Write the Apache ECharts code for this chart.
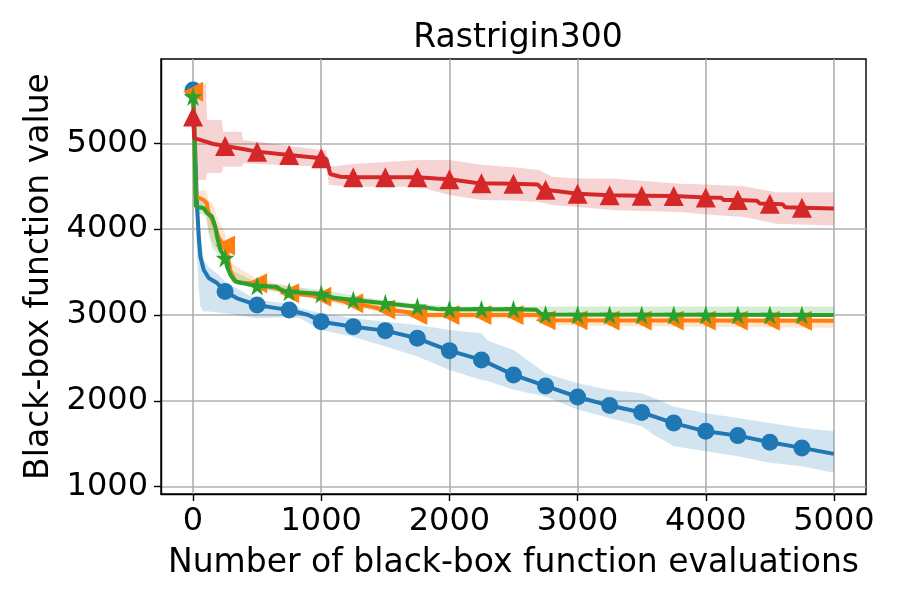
<!DOCTYPE html>
<html>
<head>
<meta charset="utf-8">
<script src="https://cdn.jsdelivr.net/npm/echarts@6/dist/echarts.min.js"></script>
<style>
html,body{margin:0;padding:0;background:#fff;}
#chart{width:900px;height:600px;}
</style>
</head>
<body>
<div id="chart"></div>
<script>
// ---------- Data ----------
const chartTitle = 'Rastrigin300';
const xTicks = [0, 1000, 2000, 3000, 4000, 5000];
const yTicks = [1000, 2000, 3000, 4000, 5000];
const markerX = [0,250,500,750,1000,1250,1500,1750,2000,2250,2500,2750,3000,3250,3500,3750,4000,4250,4500,4750];

// Blue (circles)
const blueX    = [0,15,30,45,57,83,122,187,250,350,500,650,750,900,1000,1250,1500,1750,2000,2250,2500,2750,3000,3250,3500,3750,4000,4250,4500,4750,4999];
const blueMean = [5620,5000,4300,3900,3681,3527,3430,3372,3275,3190,3116,3080,3058,3000,2922,2864,2818,2729,2585,2477,2302,2174,2045,1945,1865,1741,1645,1595,1517,1452,1382];
const blueMarkers = [5620,3275,3116,3058,2922,2864,2818,2729,2585,2477,2302,2174,2045,1945,1865,1741,1645,1595,1517,1452];
const blueBandX = [0,15,30,45,57,83,120,190,250,500,750,836,1000,1250,1500,1750,2000,2250,2300,2500,2750,3000,3250,3500,3600,3750,4000,4250,4500,4750,4999];
const blueLo    = [5580,4600,3700,3300,3100,3042,3040,3030,3020,2961,2975,2961,2826,2748,2632,2516,2360,2244,2230,2128,2050,1900,1799,1703,1600,1471,1413,1355,1278,1239,1162];
const blueHi    = [5660,5400,4800,4300,4000,3650,3560,3480,3390,3174,3135,3078,3019,2961,2922,2884,2826,2787,2700,2593,2322,2205,2127,2089,2030,1934,1857,1799,1741,1683,1645];

// Orange (left triangles)
const orangeX    = [0,8,15,22,83,109,120,150,170,200,230,250,270,290,320,350,450,500,700,750,1000,1250,1500,1700,1750,2000,2700,2720,4999];
const orangeMean = [5600,5300,4700,4380,4340,4300,4186,4110,4030,3900,3836,3810,3700,3520,3420,3380,3370,3369,3290,3253,3214,3136,3065,3030,3000,3000,3000,2940,2934];
const orangeMarkers = [5600,3810,3369,3253,3214,3136,3065,3000,3000,3000,3000,2940,2938,2937,2936,2936,2935,2935,2934,2934];
const orangeBandX = [0,20,22,100,120,150,200,250,300,500,1000,1500,1750,2700,2720,4999];
const orangeLo    = [5550,4300,4250,4200,4000,3850,3750,3700,3380,3320,3170,3020,2960,2960,2880,2850];
const orangeHi    = [5650,4900,4450,4450,4350,4300,4100,3950,3600,3420,3260,3110,3040,3040,2990,2960];

// Green (stars)
const greenX    = [0,8,15,22,83,109,148,174,187,213,250,265,291,330,446,500,650,700,750,1000,1100,1250,1500,1750,1900,2000,2500,2680,2720,4999];
const greenMean = [5544,5300,4700,4263,4244,4186,4147,4030,3914,3759,3663,3565,3469,3391,3352,3338,3330,3280,3272,3245,3200,3175,3136,3097,3070,3066,3066,3060,3005,3000];
const greenMarkers = [5544,3663,3338,3272,3245,3175,3136,3097,3066,3066,3066,3005,3000,3000,3000,3000,3000,3000,3000,3000];
const greenBandX = [0,22,100,120,150,200,250,300,500,1000,1500,2000,2700,2720,4999];
const greenLo    = [5500,4200,4150,3950,3780,3700,3600,3400,3300,3200,3100,3030,3030,2990,2990];
const greenHi    = [5590,4350,4300,4250,4200,3950,3780,3520,3380,3290,3170,3100,3100,3100,3100];

// Red (up triangles)
const redX    = [0,6,10,100,150,250,400,500,750,1000,1040,1070,1150,1250,1750,1900,2000,2200,2250,2500,2690,2720,2750,2800,3000,3250,3500,3750,4000,4120,4140,4250,4400,4420,4500,4600,4620,4750,4999];
const redMean = [5311,5311,5060,5020,4995,4969,4930,4903,4864,4825,4820,4643,4610,4604,4604,4590,4581,4540,4534,4528,4520,4470,4460,4450,4412,4395,4390,4385,4370,4365,4340,4340,4330,4300,4295,4290,4255,4250,4240];
const redMarkers = [5311,4969,4903,4864,4825,4604,4604,4604,4581,4534,4528,4460,4412,4395,4390,4385,4370,4340,4295,4250];
const redBandX = [0,100,110,225,235,380,390,1000,1040,1060,1250,1750,2000,2250,2500,2700,2800,3000,3300,3800,4000,4300,4550,4999];
const redLo    = [4573,4573,4655,4655,4728,4728,4767,4728,4728,4514,4495,4495,4398,4340,4335,4315,4280,4257,4219,4200,4170,4141,4064,4044];
const redHi    = [5697,5697,5271,5271,5135,5135,5038,4922,4922,4728,4760,4806,4806,4750,4720,4690,4610,4590,4586,4530,4520,4500,4431,4431];

// ---------- Styles ----------
const FONT = 'DejaVu Sans';
const C = { blue:'#1f77b4', orange:'#ff7f0e', green:'#2ca02c', red:'#d62728' };
const starPath = 'path://M50,0 L61.2,34.5 L97.6,34.5 L68.2,55.9 L79.4,90.5 L50,69.1 L20.6,90.5 L31.8,55.9 L2.4,34.5 L38.8,34.5 Z';

function zip(xs, ys){ return xs.map((x,i)=>[x, ys[i]]); }
function zip3(xs, a, b){ return xs.map((x,i)=>[x, a[i], b[i]]); }

function bandSeries(xs, lo, hi, color, z){
  const rows = zip3(xs, lo, hi);
  return {
    type:'custom', silent:true, clip:true, z:z,
    data: rows,
    encode:{ x:0, y:[1,2] },
    renderItem: function(params, api){
      if (params.dataIndex !== 0) return null;
      const pts = [];
      for (let i=0;i<rows.length;i++) pts.push(api.coord([rows[i][0], rows[i][2]]));
      for (let i=rows.length-1;i>=0;i--) pts.push(api.coord([rows[i][0], rows[i][1]]));
      return { type:'polygon', shape:{ points: pts }, style:{ fill: color } };
    }
  };
}
function lineSeries(xs, ys, color, z){
  return { type:'line', data: zip(xs, ys), showSymbol:false, symbol:'none',
    lineStyle:{ color: color, width:4 }, itemStyle:{color:color}, z:z, silent:true, animation:false };
}
function markerSeries(ys, color, symbol, size, rotate, z){
  return { type:'scatter', data: zip(markerX, ys), symbol: symbol, symbolSize: size,
    symbolRotate: rotate, itemStyle:{ color: color, opacity:1 }, z:z, silent:true, animation:false };
}
const plainNum = v => String(v);

const chart = echarts.init(document.getElementById('chart'), null, {renderer:'canvas'});
chart.setOption({
  animation:false,
  backgroundColor:'#ffffff',
  title:{ text: chartTitle, left: 513, top: 17, textAlign:'center',
    textStyle:{ fontFamily:FONT, fontSize:33, fontWeight:'normal', color:'#000' } },
  grid:{ left:161, right:34, top:59, bottom:106, show:true, borderColor:'#000', borderWidth:1.4, backgroundColor:'transparent' },
  xAxis:{
    type:'value', min:-250, max:5250,
    name:'Number of black-box function evaluations', nameLocation:'middle', nameGap:53,
    nameTextStyle:{ fontFamily:FONT, fontSize:33, color:'#000' },
    axisLine:{ show:true, onZero:false, lineStyle:{ color:'#000', width:1.4 } },
    axisTick:{ show:true, inside:false, length:7, customValues: xTicks, lineStyle:{ color:'#000', width:1.4 } },
    axisLabel:{ show:true, customValues: xTicks, formatter: plainNum, margin:12, fontFamily:FONT, fontSize:32, color:'#000' },
    splitLine:{ show:true, lineStyle:{ color:'#b0b0b0', width:1.6 } }
  },
  yAxis:{
    type:'value', min:915, max:5982,
    name:'Black-box function value', nameLocation:'middle', nameGap:104, nameRotate:90,
    nameTextStyle:{ fontFamily:FONT, fontSize:33, color:'#000' },
    axisLine:{ show:true, onZero:false, lineStyle:{ color:'#000', width:1.4 } },
    axisTick:{ show:true, inside:false, length:7, customValues: yTicks, lineStyle:{ color:'#000', width:1.4 } },
    axisLabel:{ show:true, customValues: yTicks, formatter: plainNum, margin:13, fontFamily:FONT, fontSize:32, color:'#000' },
    splitLine:{ show:true, lineStyle:{ color:'#b0b0b0', width:1.6 } }
  },
  series:[
    bandSeries(blueBandX, blueLo, blueHi, 'rgba(31,119,180,0.2)', 1),
    bandSeries(orangeBandX, orangeLo, orangeHi, 'rgba(255,127,14,0.2)', 1),
    bandSeries(greenBandX, greenLo, greenHi, 'rgba(44,160,44,0.2)', 1),
    bandSeries(redBandX, redLo, redHi, 'rgba(214,39,40,0.2)', 1),
    lineSeries(blueX, blueMean, C.blue, 2),
    markerSeries(blueMarkers, C.blue, 'circle', 17, 0, 3),
    lineSeries(orangeX, orangeMean, C.orange, 4),
    markerSeries(orangeMarkers, C.orange, 'triangle', 20, 90, 5),
    lineSeries(greenX, greenMean, C.green, 6),
    markerSeries(greenMarkers, C.green, starPath, 19, 0, 7),
    lineSeries(redX, redMean, C.red, 8),
    markerSeries(redMarkers, C.red, 'triangle', 20, 0, 9)
  ]
});
</script>
</body>
</html>
